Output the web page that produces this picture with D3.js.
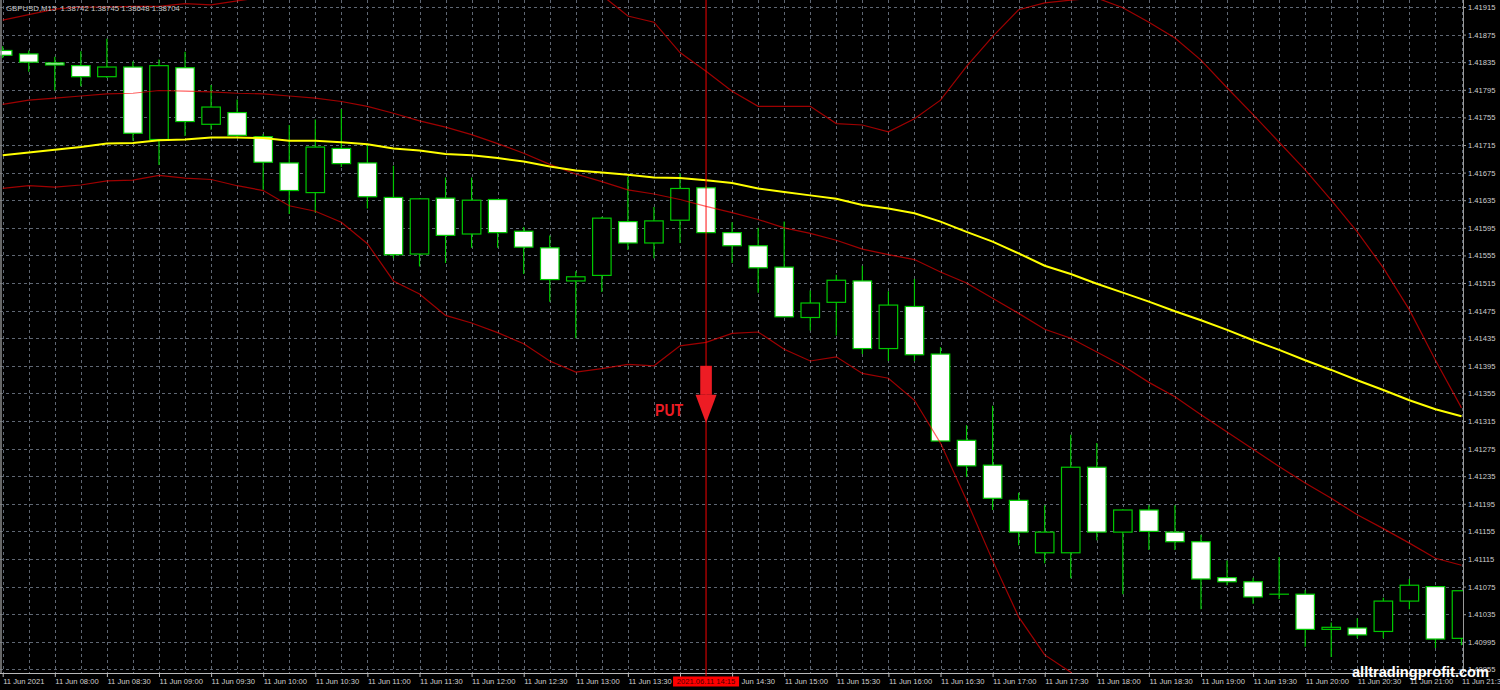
<!DOCTYPE html>
<html><head><meta charset="utf-8">
<script src="https://cdn.jsdelivr.net/npm/d3@7"></script>
<style>html,body{margin:0;padding:0;background:#000;overflow:hidden}</style>
</head><body>
<svg id="c" width="1500" height="690"></svg>
<script>
// ---------- data ----------
const symbolTitle = "GBPUSD,M15  1.38742 1.38745 1.38648 1.38704";
const watermark = "alltradingprofit.com";
const signalLabel = "PUT";
const signalTime = "2021.06.11 14:15";
const signalIndex = 27;
const arrowPrices = [1.41395, 1.41353, 1.41312]; // top, neck, tip

const timeTicks = ["11 Jun 2021","11 Jun 08:00","11 Jun 08:30","11 Jun 09:00","11 Jun 09:30","11 Jun 10:00","11 Jun 10:30","11 Jun 11:00","11 Jun 11:30","11 Jun 12:00","11 Jun 12:30","11 Jun 13:00","11 Jun 13:30","11 Jun 14:00","11 Jun 14:30","11 Jun 15:00","11 Jun 15:30","11 Jun 16:00","11 Jun 16:30","11 Jun 17:00","11 Jun 17:30","11 Jun 18:00","11 Jun 18:30","11 Jun 19:00","11 Jun 19:30","11 Jun 20:00","11 Jun 20:30","11 Jun 21:00","11 Jun 21:30"];
const priceTicks = [1.41915,1.41875,1.41835,1.41795,1.41755,1.41715,1.41675,1.41635,1.41595,1.41555,1.41515,1.41475,1.41435,1.41395,1.41355,1.41315,1.41275,1.41235,1.41195,1.41155,1.41115,1.41075,1.41035,1.40995,1.40955];

const openP  = [1.41852,1.41847,1.41834,1.41830,1.41814,1.41828,1.41723,1.41827,1.41745,1.41762,1.41727,1.41689,1.41646,1.41710,1.41689,1.41639,1.41557,1.41638,1.41586,1.41636,1.41590,1.41566,1.41518,1.41526,1.41604,1.41573,1.41606,1.41653,1.41588,1.41569,1.41538,1.41465,1.41487,1.41518,1.41420,1.41481,1.41412,1.41287,1.41251,1.41200,1.41124,1.41124,1.41248,1.41154,1.41186,1.41154,1.41140,1.41088,1.41082,1.41064,1.41064,1.41013,1.41015,1.41010,1.41054,1.41075,1.41000];
const highP  = [1.41858,1.41852,1.41843,1.41851,1.41869,1.41836,1.41839,1.41850,1.41802,1.41781,1.41731,1.41744,1.41752,1.41767,1.41716,1.41685,1.41638,1.41668,1.41668,1.41636,1.41596,1.41584,1.41532,1.41611,1.41669,1.41625,1.41674,1.41656,1.41603,1.41595,1.41604,1.41504,1.41527,1.41540,1.41503,1.41521,1.41422,1.41309,1.41337,1.41211,1.41193,1.41295,1.41283,1.41187,1.41193,1.41193,1.41150,1.41113,1.41088,1.41118,1.41070,1.41023,1.41029,1.41059,1.41086,1.41075,1.41069];
const lowP   = [1.41841,1.41821,1.41794,1.41800,1.41812,1.41721,1.41686,1.41728,1.41737,1.41727,1.41650,1.41615,1.41617,1.41683,1.41623,1.41551,1.41539,1.41544,1.41566,1.41566,1.41528,1.41488,1.41435,1.41502,1.41563,1.41551,1.41573,1.41587,1.41544,1.41501,1.41466,1.41446,1.41439,1.41412,1.41402,1.41402,1.41286,1.41234,1.41186,1.41135,1.41109,1.41087,1.41142,1.41064,1.41128,1.41128,1.41042,1.41077,1.41050,1.41057,1.40988,1.40973,1.41000,1.41000,1.41042,1.40986,1.40990];
const closeP = [1.41845,1.41835,1.41831,1.41814,1.41828,1.41732,1.41830,1.41749,1.41770,1.41729,1.41690,1.41649,1.41712,1.41688,1.41640,1.41556,1.41637,1.41584,1.41635,1.41588,1.41567,1.41520,1.41524,1.41609,1.41573,1.41605,1.41652,1.41588,1.41569,1.41537,1.41466,1.41486,1.41519,1.41420,1.41483,1.41411,1.41286,1.41250,1.41203,1.41154,1.41154,1.41248,1.41154,1.41186,1.41155,1.41140,1.41086,1.41082,1.41060,1.41064,1.41013,1.41016,1.41005,1.41054,1.41077,1.40999,1.41069];

const bbMid   = [1.41774,1.41780,1.41783,1.41786,1.41789,1.41790,1.41794,1.41793,1.41792,1.41790,1.41789,1.41786,1.41783,1.41778,1.41771,1.41761,1.41750,1.41741,1.41730,1.41717,1.41703,1.41687,1.41673,1.41662,1.41650,1.41644,1.41636,1.41626,1.41617,1.41607,1.41595,1.41587,1.41577,1.41564,1.41556,1.41549,1.41531,1.41515,1.41493,1.41471,1.41448,1.41435,1.41415,1.41395,1.41371,1.41350,1.41324,1.41299,1.41274,1.41249,1.41225,1.41203,1.41179,1.41159,1.41138,1.41116,1.41106];
const bbUpper = [1.41896,1.41904,1.41912,1.41915,1.41915,1.41916,1.41916,1.41920,1.41918,1.41924,1.41929,1.41945,1.41947,1.41953,1.41971,1.42005,1.42001,1.42014,1.42004,1.41992,1.41979,1.41973,1.41960,1.41932,1.41902,1.41893,1.41849,1.41822,1.41793,1.41771,1.41771,1.41771,1.41746,1.41744,1.41734,1.41753,1.41780,1.41829,1.41872,1.41911,1.41921,1.41925,1.41928,1.41914,1.41893,1.41870,1.41838,1.41798,1.41759,1.41719,1.41679,1.41635,1.41589,1.41537,1.41476,1.41403,1.41334];
const bbLower = [1.41652,1.41656,1.41654,1.41657,1.41663,1.41664,1.41671,1.41667,1.41665,1.41656,1.41649,1.41627,1.41619,1.41603,1.41572,1.41518,1.41499,1.41468,1.41457,1.41443,1.41427,1.41402,1.41386,1.41391,1.41397,1.41395,1.41424,1.41429,1.41442,1.41444,1.41419,1.41402,1.41408,1.41384,1.41377,1.41345,1.41283,1.41200,1.41113,1.41031,1.40976,1.40951,1.40902,1.40876,1.40849,1.40830,1.40810,1.40800,1.40789,1.40779,1.40771,1.40771,1.40769,1.40781,1.40800,1.40829,1.40878];
const maSlow  = [1.41700,1.41704,1.41708,1.41712,1.41717,1.41718,1.41722,1.41723,1.41726,1.41726,1.41725,1.41721,1.41721,1.41719,1.41716,1.41710,1.41707,1.41702,1.41700,1.41696,1.41691,1.41684,1.41678,1.41675,1.41672,1.41668,1.41667,1.41664,1.41660,1.41652,1.41647,1.41642,1.41637,1.41628,1.41623,1.41616,1.41604,1.41589,1.41575,1.41558,1.41540,1.41528,1.41514,1.41501,1.41488,1.41474,1.41461,1.41447,1.41432,1.41418,1.41403,1.41389,1.41374,1.41360,1.41345,1.41332,1.41322];

// ---------- chart ----------
const W = 1500, H = 690, plotRight = 1463, plotBottom = 673;
const svg = d3.select("#c");
svg.append("rect").attr("width", W).attr("height", H).attr("fill", "#000");

const n = openP.length;
const x = d3.scaleLinear().domain([0, n - 1]).range([2.7, 1461.5]);
const y = d3.scaleLinear().domain([1.40995, 1.41915]).range([641.8, 7]);
const sx = x(signalIndex);

svg.append("defs").append("clipPath").attr("id", "plot")
  .append("rect").attr("x", 0).attr("y", 0).attr("width", plotRight).attr("height", plotBottom);

const gridColor = "#5f6773";
const grid = svg.append("g").attr("clip-path", "url(#plot)");
grid.selectAll("line.h").data(priceTicks).join("line")
  .attr("x1", 0).attr("x2", plotRight)
  .attr("y1", d => Math.round(y(d)) + 0.5).attr("y2", d => Math.round(y(d)) + 0.5)
  .attr("stroke", gridColor).attr("stroke-width", 1).attr("stroke-dasharray", "3,3");
grid.selectAll("line.v").data(d3.range(n)).join("line")
  .attr("x1", d => Math.round(x(d)) + 0.5).attr("x2", d => Math.round(x(d)) + 0.5)
  .attr("y1", 0).attr("y2", plotBottom)
  .attr("stroke", gridColor).attr("stroke-width", 1).attr("stroke-dasharray", "3,3");

// dark underlay so the signal line reads solid over the grid
svg.append("line").attr("x1", sx).attr("x2", sx).attr("y1", 0).attr("y2", plotBottom)
  .attr("stroke", "#000").attr("stroke-width", 2);

// candles
const bars = d3.range(n).map(i => ({i, o: openP[i], h: highP[i], l: lowP[i], c: closeP[i]}));
const cg = svg.append("g").attr("clip-path", "url(#plot)");
const green = "#00c800";
cg.selectAll("line.wick").data(bars).join("line")
  .attr("x1", d => x(d.i)).attr("x2", d => x(d.i))
  .attr("y1", d => y(d.h)).attr("y2", d => y(d.l))
  .attr("stroke", green).attr("stroke-width", 1.2);
const bw = 18.5;
cg.selectAll("rect.body").data(bars).join("rect")
  .attr("x", d => x(d.i) - bw / 2)
  .attr("width", bw)
  .attr("y", d => y(Math.max(d.o, d.c)))
  .attr("height", d => Math.max(0.01, y(Math.min(d.o, d.c)) - y(Math.max(d.o, d.c))))
  .attr("fill", d => d.c < d.o ? "#ffffff" : "#000000")
  .attr("stroke", green).attr("stroke-width", 1.2);

// indicator lines
const lg = svg.append("g").attr("clip-path", "url(#plot)");
const line = d3.line().x((d, i) => x(i)).y(d => y(d));
[bbUpper, bbMid, bbLower].forEach(s => {
  lg.append("path").attr("d", line(s)).attr("fill", "none")
    .attr("stroke", "rgba(255,0,0,0.62)").attr("stroke-width", 1.2);
});
lg.append("path").attr("d", line(maSlow)).attr("fill", "none")
  .attr("stroke", "#ffff00").attr("stroke-width", 2);

// borders / axes
svg.append("line").attr("x1", 1).attr("x2", 1).attr("y1", 0).attr("y2", plotBottom)
  .attr("stroke", "#8a8a8a").attr("stroke-width", 1.5);

const fontSmall = "7.6px";
const axR = d3.axisRight(y).tickValues(priceTicks).tickFormat(d3.format(".5f")).tickSize(3).tickPadding(2);
const gR = svg.append("g").attr("transform", `translate(${plotRight},0)`).call(axR);
gR.select(".domain").attr("stroke", "#9a9a9a").attr("d", `M0.5,0V${plotBottom}`);
gR.selectAll(".tick line").attr("stroke", "#9a9a9a");
gR.selectAll(".tick text").attr("fill", "#cfcfcf").attr("font-family", "Liberation Sans, Arial, sans-serif")
  .attr("font-size", fontSmall).attr("x", 5).attr("dy", "0.34em");

// time axis; the label hidden behind the signal time flag is left out,
// and the one partly under it only shows its visible part
const flagL = sx - 33, flagR = sx + 33;
const tickIdx = timeTicks.map((t, k) => k * 2);
const axB = d3.axisBottom(x).tickValues(tickIdx).tickFormat((d, k) => timeTicks[k]).tickSize(4).tickPadding(2);
const gB = svg.append("g").attr("transform", `translate(0,${plotBottom})`).call(axB);
gB.select(".domain").attr("stroke", "#b8b8b8").attr("d", `M0,0.5H${plotRight}`);
gB.selectAll(".tick line").attr("stroke", "#b8b8b8");
gB.selectAll(".tick text").attr("fill", "#cfcfcf").attr("font-family", "Liberation Sans, Arial, sans-serif")
  .attr("font-size", fontSmall).attr("text-anchor", "start").attr("x", 0).attr("y", 11).attr("dy", 0)
  .each(function (d) {
    const t = d3.select(this);
    const tx = x(d);
    if (tx >= flagL && tx <= flagR) {
      const txt = t.text();
      const w = this.getComputedTextLength();
      if (tx + w <= flagR + 2) { t.text(""); }
      else {
        const rest = txt.replace(/^\S+\s/, "");
        t.text(rest).attr("x", flagR + 2 - tx);
      }
    }
  });

// signal vertical line
svg.append("line").attr("x1", sx).attr("x2", sx).attr("y1", 0).attr("y2", plotBottom + 3)
  .attr("stroke", "rgba(255,0,0,0.68)").attr("stroke-width", 1.4);

// time flag on axis
svg.append("rect").attr("x", flagL).attr("y", plotBottom + 3.5).attr("width", flagR - flagL).attr("height", 10)
  .attr("fill", "#ff0000");
svg.append("text").attr("x", sx).attr("y", plotBottom + 11).attr("text-anchor", "middle")
  .attr("font-family", "Liberation Sans, Arial, sans-serif").attr("font-size", fontSmall)
  .attr("fill", "#4a0000").text(signalTime);

// PUT arrow
const arrowRed = "#ed1c24";
svg.append("rect").attr("x", sx - 5.8).attr("width", 11.6)
  .attr("y", y(arrowPrices[0])).attr("height", y(arrowPrices[1]) - y(arrowPrices[0]))
  .attr("fill", arrowRed);
svg.append("path")
  .attr("d", `M${sx - 10.5},${y(arrowPrices[1])}L${sx + 10.5},${y(arrowPrices[1])}L${sx},${y(arrowPrices[2])}Z`)
  .attr("fill", arrowRed);
svg.append("text").attr("x", sx - 51).attr("y", y(arrowPrices[2]) - 7)
  .attr("font-family", "Liberation Sans, Arial, sans-serif").attr("font-weight", "bold")
  .attr("font-size", "16px").attr("textLength", 28).attr("lengthAdjust", "spacingAndGlyphs")
  .attr("fill", arrowRed).text(signalLabel);

// title
svg.append("text").attr("x", 6).attr("y", 11)
  .attr("font-family", "Liberation Sans, Arial, sans-serif").attr("font-size", "7.8px")
  .attr("fill", "#c8c8c8").attr("xml:space", "preserve").text(symbolTitle);

// watermark
svg.append("text").attr("x", 1352).attr("y", 677)
  .attr("font-family", "Liberation Sans, Arial, sans-serif").attr("font-weight", "bold")
  .attr("font-size", "15px").attr("textLength", 137).attr("lengthAdjust", "spacingAndGlyphs")
  .attr("fill", "#ffffff").text(watermark);
</script>
</body></html>
